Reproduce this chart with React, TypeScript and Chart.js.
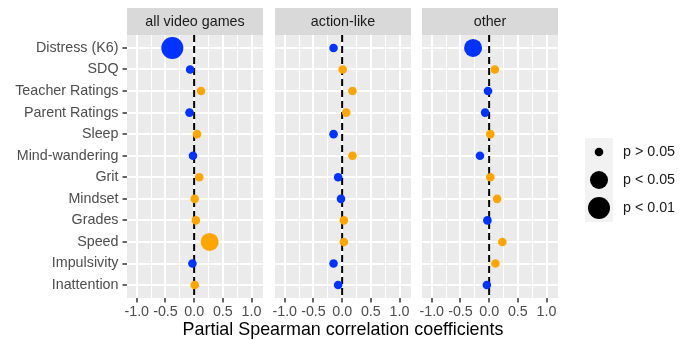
import React, { useEffect, useRef } from 'react';
import { Chart, registerables } from 'chart.js';

Chart.register(...registerables);

const categories = [
  'Distress (K6)',
  'SDQ',
  'Teacher Ratings',
  'Parent Ratings',
  'Sleep',
  'Mind-wandering',
  'Grit',
  'Mindset',
  'Grades',
  'Speed',
  'Impulsivity',
  'Inattention',
];

const panelTitles = ['all video games', 'action-like', 'other'];

const allVideoGames = [-0.38, -0.07, 0.12, -0.08, 0.05, -0.02, 0.09, 0.01, 0.03, 0.27, -0.03, 0.01];
const actionLike = [-0.15, 0.01, 0.18, 0.07, -0.15, 0.18, -0.07, -0.02, 0.03, 0.03, -0.15, -0.07];
const other = [-0.28, 0.1, -0.02, -0.07, 0.02, -0.16, 0.02, 0.14, -0.03, 0.23, 0.11, -0.04];

// significance level: 0 = p > 0.05, 1 = p < 0.05, 2 = p < 0.01
const sigAllVideoGames = [2, 0, 0, 0, 0, 0, 0, 0, 0, 1, 0, 0];
const sigActionLike = [0, 0, 0, 0, 0, 0, 0, 0, 0, 0, 0, 0];
const sigOther = [1, 0, 0, 0, 0, 0, 0, 0, 0, 0, 0, 0];

const xTickValues = [-1, -0.75, -0.5, -0.25, 0, 0.25, 0.5, 0.75, 1];
const legendLabels = ['p > 0.05', 'p < 0.05', 'p < 0.01'];
const xTitle = 'Partial Spearman correlation coefficients';

const FONT = "'Liberation Sans', Arial, Helvetica, sans-serif";
const RADIUS_BY_SIG = [4.3, 9, 11];
const BLUE = '#0033ff';
const ORANGE = '#ffa500';
const W = 689;
const H = 340;
const AREA_TOP = 35;
const AREA_BOTTOM = 298;
const STRIP_TOP = 8;

const panels = [
  { left: 127, right: 263, values: allVideoGames, sig: sigAllVideoGames, title: panelTitles[0], showY: true, showTitle: false, legend: false },
  { left: 275, right: 411, values: actionLike, sig: sigActionLike, title: panelTitles[1], showY: false, showTitle: true, legend: false },
  { left: 422, right: 558, values: other, sig: sigOther, title: panelTitles[2], showY: false, showTitle: false, legend: true },
];

const isMajor = (v: number) => Math.abs(v * 2 - Math.round(v * 2)) < 1e-9;

const panelPlugin = {
  id: 'panelDecor',
  beforeDraw(chart: any, _args: any, opts: any) {
    const { ctx, chartArea } = chart;
    ctx.save();
    ctx.fillStyle = '#ebebeb';
    ctx.fillRect(chartArea.left, chartArea.top, chartArea.right - chartArea.left, chartArea.bottom - chartArea.top);
    ctx.fillStyle = '#d9d9d9';
    ctx.fillRect(chartArea.left, STRIP_TOP, chartArea.right - chartArea.left, chartArea.top - STRIP_TOP);
    ctx.fillStyle = '#1a1a1a';
    ctx.font = `14.3px ${FONT}`;
    ctx.textAlign = 'center';
    ctx.textBaseline = 'middle';
    ctx.fillText(opts.title, (chartArea.left + chartArea.right) / 2, (STRIP_TOP + chartArea.top) / 2 + 1);
    ctx.restore();
  },
  afterDraw(chart: any, _args: any, opts: any) {
    if (!opts.axisTitle) return;
    const { ctx, chartArea } = chart;
    ctx.save();
    ctx.fillStyle = '#000';
    ctx.font = `17.9px ${FONT}`;
    ctx.textAlign = 'center';
    ctx.textBaseline = 'alphabetic';
    ctx.fillText(opts.axisTitle, (chartArea.left + chartArea.right) / 2, 335);
    ctx.restore();
  },
};

const legendPlugin = {
  id: 'sizeLegend',
  afterDraw(chart: any) {
    const ctx = chart.ctx;
    ctx.save();
    ctx.fillStyle = '#f2f2f2';
    ctx.fillRect(585, 138, 28, 84);
    legendLabels.forEach((lab, i) => {
      const cy = 152 + i * 28;
      ctx.beginPath();
      ctx.arc(599, cy, RADIUS_BY_SIG[i], 0, Math.PI * 2);
      ctx.fillStyle = '#000';
      ctx.fill();
      ctx.fillStyle = '#1a1a1a';
      ctx.font = `14.3px ${FONT}`;
      ctx.textAlign = 'left';
      ctx.textBaseline = 'middle';
      ctx.fillText(lab, 623, cy);
    });
    ctx.restore();
  },
};

function makeConfig(p: any): any {
  const radii = p.sig.map((s: number) => RADIUS_BY_SIG[s]);
  return {
    type: 'scatter',
    data: {
      datasets: [
        {
          type: 'scatter',
          data: p.values.map((v: number, i: number) => ({ x: v, y: i })),
          pointRadius: radii,
          pointHoverRadius: radii,
          pointBackgroundColor: p.values.map((v: number) => (v < 0 ? BLUE : ORANGE)),
          pointBorderWidth: 0,
          order: 0,
          clip: false,
        },
        {
          type: 'line',
          data: [
            { x: 0, y: -0.6 },
            { x: 0, y: 11.6 },
          ],
          borderColor: '#000',
          borderWidth: 2,
          borderDash: [7, 4],
          pointRadius: 0,
          fill: false,
          order: 1,
        },
      ],
    },
    options: {
      animation: false,
      responsive: false,
      events: [],
      layout: { padding: { left: p.showY ? 0 : p.left, right: W - p.right, top: AREA_TOP, bottom: 0 } },
      plugins: {
        legend: { display: false },
        tooltip: { enabled: false },
        panelDecor: { title: p.title, axisTitle: p.showTitle ? xTitle : '' },
      },
      scales: {
        x: {
          type: 'linear',
          min: -1.17,
          max: 1.2,
          afterBuildTicks: (s: any) => {
            s.ticks = xTickValues.map((v) => ({ value: v }));
          },
          afterFit: (s: any) => {
            s.height = H - AREA_BOTTOM;
          },
          ticks: {
            callback: (v: number) => (isMajor(v) ? v.toFixed(1) : ''),
            color: '#4d4d4d',
            font: { family: FONT, size: 14.3 },
            padding: 1,
            maxRotation: 0,
            minRotation: 0,
            autoSkip: false,
          },
          grid: {
            color: '#ffffff',
            lineWidth: (c: any) => (c.tick && isMajor(c.tick.value) ? 2 : 1),
            tickLength: 4.5,
            tickColor: (c: any) => (c.tick && isMajor(c.tick.value) ? '#333333' : 'rgba(0,0,0,0)'),
            tickWidth: 1.5,
          },
          border: { display: false },
        },
        y: {
          type: 'linear',
          reverse: true,
          min: -0.6,
          max: 11.6,
          afterBuildTicks: (s: any) => {
            s.ticks = categories.map((_, i) => ({ value: i }));
          },
          afterFit: (s: any) => {
            s.width = p.showY ? p.left : 0;
          },
          ticks: {
            display: p.showY,
            callback: (v: number) => categories[Math.round(v)],
            color: '#4d4d4d',
            font: { family: FONT, size: 14.3 },
            padding: 4,
          },
          grid: {
            color: '#ffffff',
            lineWidth: 2,
            drawTicks: p.showY,
            tickLength: 4.5,
            tickColor: '#333333',
            tickWidth: 1.5,
          },
          border: { display: false },
        },
      },
    },
    plugins: p.legend ? [panelPlugin, legendPlugin] : [panelPlugin],
  };
}

export default function App() {
  const refs = [useRef<HTMLCanvasElement>(null), useRef<HTMLCanvasElement>(null), useRef<HTMLCanvasElement>(null)];

  useEffect(() => {
    const charts = panels.map((p, i) => new Chart(refs[i].current as HTMLCanvasElement, makeConfig(p)));
    return () => charts.forEach((c) => c.destroy());
  }, []);

  return (
    <div style={{ position: 'absolute', left: 0, top: 0, width: W, height: H, background: '#fff' }}>
      {panels.map((p, i) => (
        <canvas
          key={p.title}
          ref={refs[i]}
          width={W}
          height={H}
          style={{ position: 'absolute', left: 0, top: 0, width: W, height: H, display: 'block' }}
        />
      ))}
    </div>
  );
}
